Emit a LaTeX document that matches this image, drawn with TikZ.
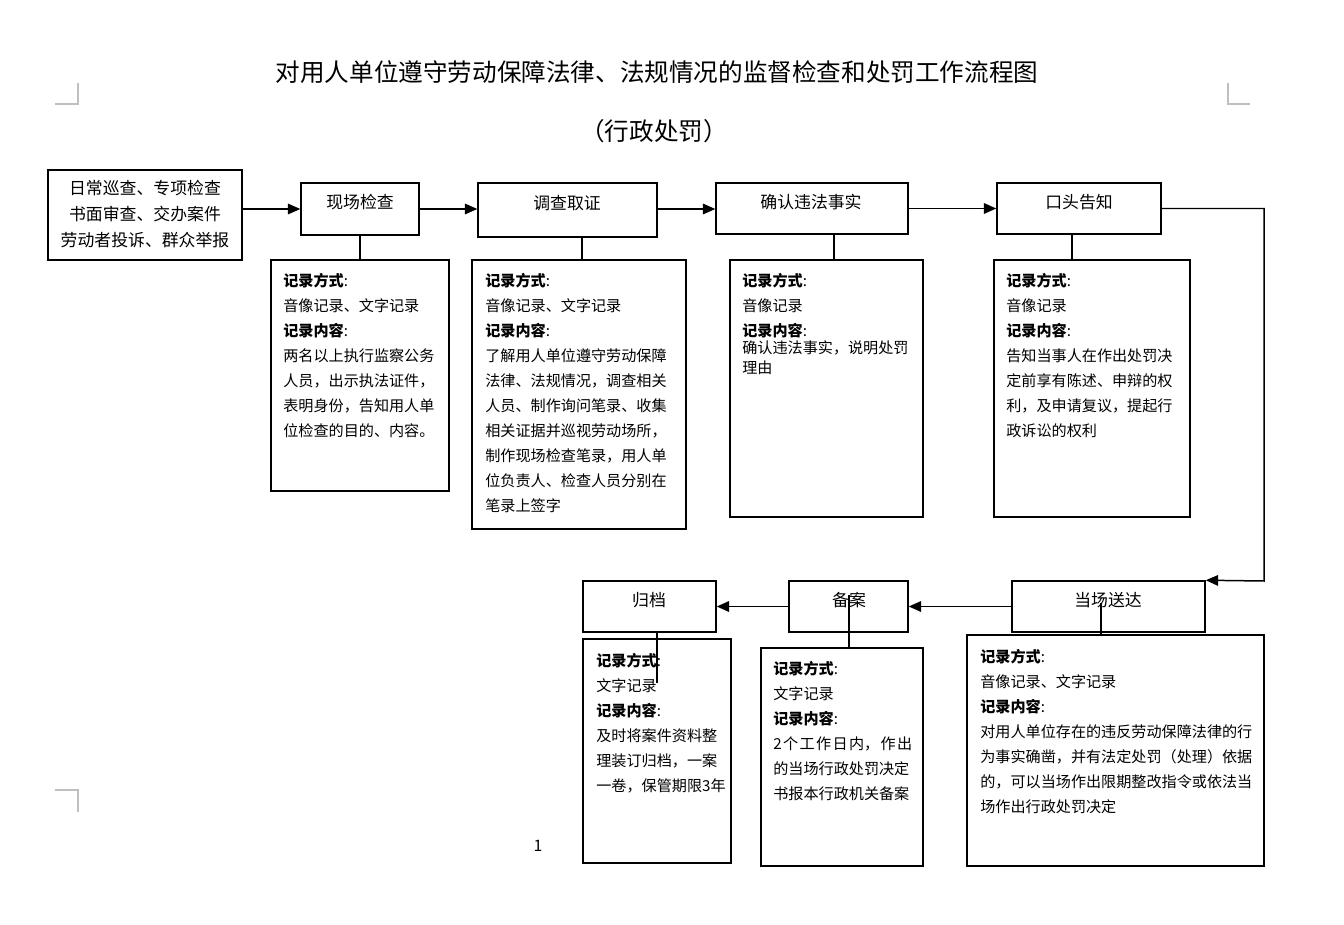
\documentclass[tikz,border=0pt]{standalone}
\usepackage{fontspec}
\setmainfont{Noto Sans CJK SC}
\usetikzlibrary{arrows.meta,fit}
\begin{document}
\begin{tikzpicture}[x=0.02cm,y=-0.02cm,
  box/.style={draw, line width=0.85pt, inner sep=0pt},
  hd/.style={font=\fontsize{9.6}{12}\selectfont, inner sep=0pt},
  body/.style={font=\fontsize{8.6}{14.2}\selectfont, align=left, anchor=north west, inner sep=0pt},
  link/.style={line width=0.85pt},
  arr/.style={line width=0.85pt, -{Triangle[length=7pt,width=6pt]}},
  crop/.style={draw=black!25, line width=0.7pt}]
\useasboundingbox (0,0) rectangle (1344,925);
% crop marks
\coordinate (m1a) at (55,104); \coordinate (m1b) at (78,104); \coordinate (m1c) at (78,83);
\draw[crop] (m1a) -- (m1b) -- (m1c);
\coordinate (m2a) at (1250,104); \coordinate (m2b) at (1228,104); \coordinate (m2c) at (1228,83);
\draw[crop] (m2a) -- (m2b) -- (m2c);
\coordinate (m3a) at (55,790); \coordinate (m3b) at (78,790); \coordinate (m3c) at (78,812);
\draw[crop] (m3a) -- (m3b) -- (m3c);
% titles
\node[font=\fontsize{14}{16}\selectfont, inner sep=0pt] (title) at (657,72) {对用人单位遵守劳动保障法律、法规情况的监督检查和处罚工作流程图};
\node[font=\fontsize{14}{16}\selectfont, inner sep=0pt] (sub) at (654,131) {（行政处罚）};
% top row boxes
\node[box, fit={(48,170)(242,260)}] (src) {};
\node[font=\fontsize{9.6}{14.6}\selectfont, align=center, inner sep=0pt] (src-t) at (145,214) {日常巡查、专项检查\\书面审查、交办案件\\劳动者投诉、群众举报};
\node[box, fit={(301,183)(419,235)}] (xc) {};
\node[hd] (xc-t) at (360,202) {现场检查};
\node[box, fit={(478,183)(657,237)}] (dq) {};
\node[hd] (dq-t) at (567,203) {调查取证};
\node[box, fit={(716,183)(908,234)}] (qr) {};
\node[hd] (qr-t) at (811,202) {确认违法事实};
\node[box, fit={(997,183)(1161,234)}] (kt) {};
\node[hd] (kt-t) at (1079,202) {口头告知};
% bottom row boxes
\node[box, fit={(1012,581)(1205,632)}] (dc) {};
\node[hd] (dc-t) at (1108,600) {当场送达};
\node[box, fit={(789,581)(908,632)}] (ba) {};
\node[hd] (ba-t) at (849,600) {备案};
\node[box, fit={(583,581)(716,632)}] (gd) {};
\node[hd] (gd-t) at (649,600) {归档};
% info boxes
\node[box, fit={(271,260)(449,491)}] (i1) {};
\node[body] (i1-t) at (283,273) {\textbf{记录方式}:\\音像记录、文字记录\\\textbf{记录内容}:\\两名以上执行监察公务\\人员，出示执法证件，\\表明身份，告知用人单\\位检查的目的、内容。};
\node[box, fit={(472,260)(686,529)}] (i2) {};
\node[body] (i2-t) at (485,273) {\textbf{记录方式}:\\音像记录、文字记录\\\textbf{记录内容}:\\了解用人单位遵守劳动保障\\法律、法规情况，调查相关\\人员、制作询问笔录、收集\\相关证据并巡视劳动场所，\\制作现场检查笔录，用人单\\位负责人、检查人员分别在\\笔录上签字};
\node[box, fit={(730,260)(923,517)}] (i3) {};
\node[body] (i3-t) at (742,273) {\textbf{记录方式}:\\音像记录\\\textbf{记录内容}:\\[-4.2pt]确认违法事实，说明处罚\\[-3pt]理由};
\node[box, fit={(994,260)(1190,517)}] (i4) {};
\node[body] (i4-t) at (1006,273) {\textbf{记录方式}:\\音像记录\\\textbf{记录内容}:\\告知当事人在作出处罚决\\定前享有陈述、申辩的权\\利，及申请复议，提起行\\政诉讼的权利};
\node[box, fit={(967,635)(1264,866)}] (i5) {};
\node[body] (i5-t) at (980,649) {\textbf{记录方式}:\\音像记录、文字记录\\\textbf{记录内容}:\\对用人单位存在的违反劳动保障法律的行\\为事实确凿，并有法定处罚（处理）依据\\的，可以当场作出限期整改指令或依法当\\场作出行政处罚决定};
\node[box, fit={(761,648)(923,866)}] (i6) {};
\node[body] (i6-t) at (773,661) {\textbf{记录方式}:\\文字记录\\\textbf{记录内容}:\\\makebox[2.78cm][s]{2\hfil 个\hfil 工\hfil 作\hfil 日\hfil 内，\hfil 作\hfil 出}\\的当场行政处罚决定\\书报本行政机关备案};
\node[box, fit={(583,639)(731,863)}] (i7) {};
\node[body] (i7-t) at (596,653) {\textbf{记录方式}:\\文字记录\\\textbf{记录内容}:\\及时将案件资料整\\理装订归档，一案\\一卷，保管期限3年};
% page number
\node[font=\fontsize{9}{11}\selectfont, inner sep=0pt] (pg) at (538,846) {1};
% arrows top row
\draw[arr] (src.east |- xc.west) -- (xc.west);
\draw[arr] (xc.east) -- (xc.east -| dq.west);
\draw[arr] (xc.east -| dq.east) -- (xc.east -| qr.west);
\draw[arr] (qr.east) -- (qr.east -| kt.west);
\coordinate (c0) at (1264,0);
\coordinate (c2) at (1264,581);
\draw[arr] (kt.east) -- (kt.east -| c0) -- (c2) -- (dc.north east);
% arrows bottom row
\draw[arr] (dc.west) -- (ba.east);
\draw[arr] (ba.west) -- (gd.east);
% connectors to info boxes
\coordinate (k1) at (360,0);
\coordinate (k2) at (582,0);
\coordinate (k3) at (834,0);
\coordinate (k4) at (1072,0);
\draw[link] (xc.south -| k1) -- (i1.north -| k1);
\draw[link] (dq.south -| k2) -- (i2.north -| k2);
\draw[link] (qr.south -| k3) -- (i3.north -| k3);
\draw[link] (kt.south -| k4) -- (i4.north -| k4);
\coordinate (k5) at (1101,603);
\draw[link] (k5) -- (i5.north -| k5);
\coordinate (k6) at (849,595);
\draw[link] (k6) -- (i6.north -| k6);
\coordinate (k7) at (657,683);
\draw[link] (gd.south -| k7) -- (k7);
\end{tikzpicture}
\end{document}
